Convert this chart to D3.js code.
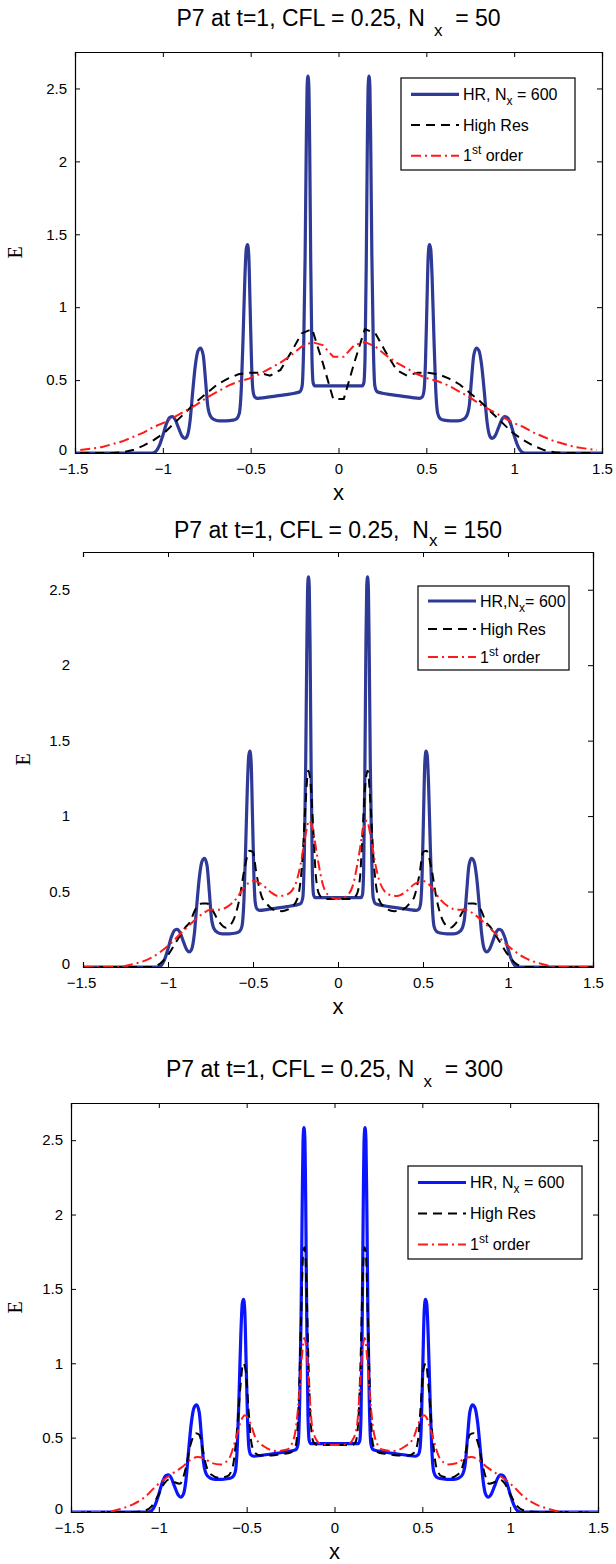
<!DOCTYPE html>
<html>
<head>
<meta charset="utf-8">
<script src="https://cdn.jsdelivr.net/npm/d3@7"></script>
<style>
  body { margin: 0; background: #fff; }
  svg { display: block; }
  text { font-family: "Liberation Sans", Arial, Helvetica, sans-serif; fill: #000; }
</style>
</head>
<body>
<svg id="chart" width="616" height="1564"></svg>
<script>
// ---------------- DATA ----------------
const xTicks = [-1.5, -1, -0.5, 0, 0.5, 1, 1.5];
const xTickLabels = ["\u22121.5", "\u22121", "\u22120.5", "0", "0.5", "1", "1.5"];
const yTicks = [0, 0.5, 1, 1.5, 2, 2.5];
const yTickLabels = ["0", "0.5", "1", "1.5", "2", "2.5"];
const titlesN = ["50", "150", "300"];
const legendLabels = ["HR, N", "High Res", "1st order"];

// Reference solution HR, Nx = 600 (same in every panel)
const hrCurve = [
  [-1.5,0],[-1.2,0],[-1.06,0],[-1.04,0.01],[-1.02,0.05],[-1.0,0.12],[-0.98,0.2],[-0.96,0.245],[-0.945,0.25],
  [-0.93,0.23],[-0.91,0.17],[-0.89,0.115],[-0.875,0.1],[-0.86,0.12],[-0.845,0.22],[-0.83,0.42],[-0.815,0.6],
  [-0.8,0.7],[-0.785,0.72],[-0.77,0.67],[-0.757,0.5],[-0.745,0.33],[-0.73,0.255],[-0.71,0.23],[-0.68,0.22],
  [-0.64,0.22],[-0.6,0.225],[-0.58,0.235],[-0.565,0.27],[-0.553,0.45],[-0.543,0.8],[-0.533,1.2],[-0.525,1.4],
  [-0.518,1.43],[-0.511,1.36],[-0.503,1.0],[-0.495,0.62],[-0.487,0.43],[-0.477,0.385],[-0.46,0.375],[-0.42,0.38],
  [-0.36,0.39],[-0.3,0.4],[-0.25,0.41],[-0.22,0.42],[-0.207,0.46],[-0.198,0.75],[-0.19,1.35],[-0.184,2.05],
  [-0.179,2.5],[-0.174,2.585],[-0.169,2.52],[-0.164,2.1],[-0.158,1.3],[-0.151,0.65],[-0.144,0.48],[-0.135,0.46],
  [-0.1,0.46],[-0.05,0.46],[0,0.46],
  [0.05,0.46],[0.1,0.46],[0.135,0.46],[0.144,0.48],[0.151,0.65],[0.158,1.3],[0.164,2.1],[0.169,2.52],[0.174,2.585],
  [0.179,2.5],[0.184,2.05],[0.19,1.35],[0.198,0.75],[0.207,0.46],[0.22,0.42],[0.25,0.41],[0.3,0.4],[0.36,0.39],
  [0.42,0.38],[0.46,0.375],[0.477,0.385],[0.487,0.43],[0.495,0.62],[0.503,1.0],[0.511,1.36],[0.518,1.43],
  [0.525,1.4],[0.533,1.2],[0.543,0.8],[0.553,0.45],[0.565,0.27],[0.58,0.235],[0.6,0.225],[0.64,0.22],[0.68,0.22],
  [0.71,0.23],[0.73,0.255],[0.745,0.33],[0.757,0.5],[0.77,0.67],[0.785,0.72],[0.8,0.7],[0.815,0.6],[0.83,0.42],
  [0.845,0.22],[0.86,0.12],[0.875,0.1],[0.89,0.115],[0.91,0.17],[0.93,0.23],[0.945,0.25],[0.96,0.245],[0.98,0.2],
  [1.0,0.12],[1.02,0.05],[1.04,0.01],[1.06,0],[1.2,0],[1.5,0]
];

// Panel 1: Nx = 50
const highRes50 = [
  [-1.47,0],[-1.41,0],[-1.35,0],[-1.29,0],[-1.23,0.005],[-1.17,0.02],[-1.11,0.05],[-1.05,0.09],[-0.99,0.14],
  [-0.93,0.21],[-0.87,0.28],[-0.81,0.35],[-0.75,0.41],[-0.69,0.47],[-0.63,0.51],[-0.57,0.54],[-0.51,0.55],
  [-0.45,0.55],[-0.39,0.53],[-0.33,0.57],[-0.27,0.69],[-0.21,0.82],[-0.15,0.85],[-0.09,0.62],[-0.03,0.37],
  [0.03,0.37],[0.09,0.62],[0.15,0.85],[0.21,0.82],[0.27,0.69],[0.33,0.57],[0.39,0.53],[0.45,0.55],[0.51,0.55],
  [0.57,0.54],[0.63,0.51],[0.69,0.47],[0.75,0.41],[0.81,0.35],[0.87,0.28],[0.93,0.21],[0.99,0.14],[1.05,0.09],
  [1.11,0.05],[1.17,0.02],[1.23,0.005],[1.29,0],[1.35,0],[1.41,0],[1.47,0]
];
const firstOrder50 = [
  [-1.47,0.02],[-1.41,0.03],[-1.35,0.04],[-1.29,0.06],[-1.23,0.08],[-1.17,0.11],[-1.11,0.14],[-1.05,0.18],
  [-0.99,0.21],[-0.93,0.25],[-0.87,0.29],[-0.81,0.33],[-0.75,0.38],[-0.69,0.42],[-0.63,0.46],[-0.57,0.49],
  [-0.51,0.51],[-0.45,0.54],[-0.39,0.58],[-0.33,0.62],[-0.27,0.67],[-0.21,0.73],[-0.15,0.76],[-0.09,0.74],
  [-0.03,0.66],[0.03,0.66],[0.09,0.74],[0.15,0.76],[0.21,0.73],[0.27,0.67],[0.33,0.62],[0.39,0.58],[0.45,0.54],
  [0.51,0.51],[0.57,0.49],[0.63,0.46],[0.69,0.42],[0.75,0.38],[0.81,0.33],[0.87,0.29],[0.93,0.25],[0.99,0.21],
  [1.05,0.18],[1.11,0.14],[1.17,0.11],[1.23,0.08],[1.29,0.06],[1.35,0.04],[1.41,0.03],[1.47,0.02]
];

// Panel 2: Nx = 150
const highRes150 = [
  [-1.5,0],[-1.1,0],[-1.05,0.02],[-1.0,0.08],[-0.95,0.17],[-0.9,0.26],[-0.87,0.3],[-0.84,0.38],[-0.8,0.42],
  [-0.77,0.42],[-0.74,0.38],[-0.7,0.3],[-0.66,0.26],[-0.62,0.3],[-0.58,0.45],[-0.55,0.65],[-0.52,0.77],
  [-0.5,0.76],[-0.48,0.62],[-0.45,0.47],[-0.42,0.42],[-0.38,0.38],[-0.33,0.37],[-0.28,0.39],[-0.24,0.45],
  [-0.21,0.7],[-0.19,1.1],[-0.175,1.3],[-0.16,1.2],[-0.145,0.9],[-0.13,0.6],[-0.11,0.48],[-0.08,0.45],[0,0.45],
  [0.08,0.45],[0.11,0.48],[0.13,0.6],[0.145,0.9],[0.16,1.2],[0.175,1.3],[0.19,1.1],[0.21,0.7],[0.24,0.45],
  [0.28,0.39],[0.33,0.37],[0.38,0.38],[0.42,0.42],[0.45,0.47],[0.48,0.62],[0.5,0.76],[0.52,0.77],[0.55,0.65],
  [0.58,0.45],[0.62,0.3],[0.66,0.26],[0.7,0.3],[0.74,0.38],[0.77,0.42],[0.8,0.42],[0.84,0.38],[0.87,0.3],
  [0.9,0.26],[0.95,0.17],[1.0,0.08],[1.05,0.02],[1.1,0],[1.5,0]
];
const firstOrder150 = [
  [-1.5,0],[-1.3,0],[-1.2,0.02],[-1.1,0.06],[-1.0,0.14],[-0.9,0.25],[-0.8,0.35],[-0.75,0.38],[-0.7,0.38],
  [-0.65,0.4],[-0.6,0.45],[-0.55,0.53],[-0.5,0.57],[-0.45,0.55],[-0.4,0.5],[-0.35,0.47],[-0.3,0.48],
  [-0.25,0.55],[-0.22,0.68],[-0.19,0.88],[-0.17,0.97],[-0.15,0.92],[-0.12,0.72],[-0.09,0.55],[-0.05,0.47],[0,0.45],
  [0.05,0.47],[0.09,0.55],[0.12,0.72],[0.15,0.92],[0.17,0.97],[0.19,0.88],[0.22,0.68],[0.25,0.55],[0.3,0.48],
  [0.35,0.47],[0.4,0.5],[0.45,0.55],[0.5,0.57],[0.55,0.53],[0.6,0.45],[0.65,0.4],[0.7,0.38],[0.75,0.38],
  [0.8,0.35],[0.9,0.25],[1.0,0.14],[1.1,0.06],[1.2,0.02],[1.3,0],[1.5,0]
];

// Panel 3: Nx = 300
const highRes300 = [
  [-1.5,0],[-1.15,0],[-1.08,0.01],[-1.04,0.04],[-1.0,0.12],[-0.97,0.19],[-0.94,0.22],[-0.91,0.2],[-0.88,0.19],
  [-0.85,0.28],[-0.82,0.45],[-0.79,0.53],[-0.77,0.52],[-0.75,0.42],[-0.73,0.31],[-0.7,0.25],[-0.66,0.23],
  [-0.61,0.24],[-0.58,0.3],[-0.555,0.55],[-0.535,0.85],[-0.52,1.0],[-0.505,0.95],[-0.49,0.7],[-0.475,0.48],
  [-0.455,0.4],[-0.42,0.38],[-0.36,0.38],[-0.3,0.39],[-0.25,0.4],[-0.22,0.45],[-0.205,0.7],[-0.19,1.3],
  [-0.178,1.75],[-0.17,1.78],[-0.16,1.55],[-0.148,1.0],[-0.135,0.6],[-0.12,0.47],[-0.1,0.45],[0,0.45],
  [0.1,0.45],[0.12,0.47],[0.135,0.6],[0.148,1.0],[0.16,1.55],[0.17,1.78],[0.178,1.75],[0.19,1.3],[0.205,0.7],
  [0.22,0.45],[0.25,0.4],[0.3,0.39],[0.36,0.38],[0.42,0.38],[0.455,0.4],[0.475,0.48],[0.49,0.7],[0.505,0.95],
  [0.52,1.0],[0.535,0.85],[0.555,0.55],[0.58,0.3],[0.61,0.24],[0.66,0.23],[0.7,0.25],[0.73,0.31],[0.75,0.42],
  [0.77,0.52],[0.79,0.53],[0.82,0.45],[0.85,0.28],[0.88,0.19],[0.91,0.2],[0.94,0.22],[0.97,0.19],[1.0,0.12],
  [1.04,0.04],[1.08,0.01],[1.15,0],[1.5,0]
];
const firstOrder300 = [
  [-1.5,0],[-1.3,0],[-1.22,0.02],[-1.15,0.05],[-1.08,0.1],[-1.02,0.17],[-0.97,0.22],[-0.92,0.26],[-0.87,0.3],
  [-0.82,0.35],[-0.78,0.37],[-0.74,0.36],[-0.7,0.33],[-0.65,0.32],[-0.6,0.36],[-0.56,0.5],[-0.53,0.62],
  [-0.51,0.65],[-0.48,0.6],[-0.45,0.5],[-0.4,0.44],[-0.33,0.41],[-0.27,0.42],[-0.23,0.5],[-0.2,0.8],
  [-0.185,1.05],[-0.172,1.17],[-0.16,1.1],[-0.145,0.85],[-0.13,0.6],[-0.11,0.5],[-0.08,0.46],[0,0.45],
  [0.08,0.46],[0.11,0.5],[0.13,0.6],[0.145,0.85],[0.16,1.1],[0.172,1.17],[0.185,1.05],[0.2,0.8],[0.23,0.5],
  [0.27,0.42],[0.33,0.41],[0.4,0.44],[0.45,0.5],[0.48,0.6],[0.51,0.65],[0.53,0.62],[0.56,0.5],[0.6,0.36],
  [0.65,0.32],[0.7,0.33],[0.74,0.36],[0.78,0.37],[0.82,0.35],[0.87,0.3],[0.92,0.26],[0.97,0.22],[1.02,0.17],
  [1.08,0.1],[1.15,0.05],[1.22,0.02],[1.3,0],[1.5,0]
];

// ---------------- LAYOUT ----------------
const panels = [
  { left: 75, right: 602, top: 52, bottom: 453, titleY: 26, subDy: 10, n: titlesN[0], titleGap: 9, hrColor: "#2e3a96",
    high: highRes50, first: firstOrder50, coarse: true, leftAxis: true, eX: 22,
    legend: { x0: 401, y0: 78, x1: 575, y1: 170, hrText: "HR, N", hrGap: true } },
  { left: 83, right: 593, top: 552, bottom: 967, titleY: 538, subDy: 8, n: titlesN[1], titleGap: 0, hrColor: "#2e3a96",
    high: highRes150, first: firstOrder150, coarse: false, leftAxis: false, eX: 30,
    legend: { x0: 418, y0: 586, x1: 569, y1: 670, hrText: "HR,N", hrGap: false } },
  { left: 71, right: 598, top: 1103, bottom: 1512, titleY: 1077, subDy: 10, n: titlesN[2], titleGap: 9, hrColor: "#0a14ff",
    high: highRes300, first: firstOrder300, coarse: false, leftAxis: true, eX: 22,
    legend: { x0: 408, y0: 1166, x1: 582, y1: 1259, hrText: "HR, N", hrGap: true } }
];

const DASH_BLACK = "9,6";
const DASH_RED = "10,4,2,4";

const svg = d3.select("#chart");
svg.append("rect").attr("width", 616).attr("height", 1564).attr("fill", "#fff");

panels.forEach((p, i) => {
  const x = d3.scaleLinear().domain([-1.5, 1.5]).range([p.left, p.right]);
  const y = d3.scaleLinear().domain([0, 2.75]).range([p.bottom, p.top]);
  const g = svg.append("g");

  const clipId = "clip" + i;
  svg.append("clipPath").attr("id", clipId).append("rect")
    .attr("x", p.left).attr("y", p.top - 2).attr("width", p.right - p.left).attr("height", p.bottom - p.top + 2);

  // title
  const t = g.append("text").attr("x", (p.left + p.right) / 2).attr("y", p.titleY)
    .attr("text-anchor", "middle").style("font-size", "23px");
  t.append("tspan").text("P7 at t=1, CFL = 0.25," + (i === 1 ? "\u00a0 N" : " N"));
  t.append("tspan").attr("dx", p.titleGap).attr("dy", p.subDy).style("font-size", "17px").text("x");
  t.append("tspan").attr("dy", -p.subDy).text((p.titleGap ? "\u00a0" : "") + " = " + p.n);

  // data lines
  const lineSmooth = d3.line().x(d => x(d[0])).y(d => y(d[1])).curve(d3.curveMonotoneX);
  const lineLin = d3.line().x(d => x(d[0])).y(d => y(d[1]));
  const plot = g.append("g").attr("clip-path", `url(#${clipId})`);

  plot.append("path").datum(hrCurve).attr("d", lineSmooth)
    .attr("fill", "none").attr("stroke", p.hrColor).attr("stroke-width", 3.2).attr("stroke-linejoin", "round");
  plot.append("path").datum(p.high).attr("d", p.coarse ? lineLin : lineSmooth)
    .attr("fill", "none").attr("stroke", "#000").attr("stroke-width", 2).attr("stroke-dasharray", DASH_BLACK);
  plot.append("path").datum(p.first).attr("d", p.coarse ? lineLin : lineSmooth)
    .attr("fill", "none").attr("stroke", "#ff1a1a").attr("stroke-width", 2).attr("stroke-dasharray", DASH_RED);

  // axes (box with inward ticks)
  const tickLen = 5;
  const axBottom = g.append("g").attr("transform", `translate(0,${p.bottom})`)
    .call(d3.axisBottom(x).tickValues(xTicks).tickSize(-tickLen).tickPadding(10)
      .tickFormat((d, k) => xTickLabels[k]));
  const axTop = g.append("g").attr("transform", `translate(0,${p.top})`)
    .call(d3.axisTop(x).tickValues(xTicks).tickSize(-tickLen).tickFormat(""));
  const axLeft = g.append("g").attr("transform", `translate(${p.left},0)`)
    .call(d3.axisLeft(y).tickValues(yTicks).tickSize(p.leftAxis ? -tickLen : 0).tickPadding(p.leftAxis ? 8 : 13)
      .tickFormat((d, k) => yTickLabels[k]));
  const axRight = g.append("g").attr("transform", `translate(${p.right},0)`)
    .call(d3.axisRight(y).tickValues(yTicks).tickSize(-tickLen).tickFormat(""));
  [axBottom, axTop, axLeft, axRight].forEach(a => {
    a.selectAll(".domain").attr("stroke", "#000").attr("stroke-width", 1.2);
    a.selectAll(".tick line").attr("stroke", "#000");
    a.selectAll("text").style("font-size", "15px").attr("fill", "#000")
      .style("font-family", '"Liberation Sans", Arial, sans-serif');
  });
  if (!p.leftAxis) axLeft.select(".domain").remove();
  axBottom.select(".tick text").attr("dx", "-2");
  axLeft.select(".tick text").attr("dy", "0.1em");

  // axis labels
  g.append("text").attr("x", (p.left + p.right) / 2).attr("y", p.bottom + 47)
    .attr("text-anchor", "middle").style("font-size", "22px").text("x");
  g.append("text").attr("transform", `translate(${p.eX},${(p.top + p.bottom) / 2}) rotate(-90)`)
    .attr("text-anchor", "middle").style("font-family", '"Liberation Serif", "Times New Roman", serif')
    .style("font-size", "20px").text("E");

  // legend
  const L = p.legend;
  g.append("rect").attr("x", L.x0).attr("y", L.y0).attr("width", L.x1 - L.x0).attr("height", L.y1 - L.y0)
    .attr("fill", "#fff").attr("stroke", "#000").attr("stroke-width", 1.2);
  const rowH = (L.y1 - L.y0) / 3;
  const lx0 = L.x0 + 10, lx1 = L.x0 + 58, tx = L.x0 + 62;
  const rows = [
    { color: p.hrColor, w: 3.2, dash: null },
    { color: "#000", w: 2, dash: DASH_BLACK },
    { color: "#ff1a1a", w: 2, dash: DASH_RED }
  ];
  rows.forEach((r, k) => {
    const cy = L.y0 + rowH * (k + 0.5) + 1;
    const ln = g.append("line").attr("x1", lx0).attr("x2", lx1).attr("y1", cy).attr("y2", cy)
      .attr("stroke", r.color).attr("stroke-width", r.w);
    if (r.dash) ln.attr("stroke-dasharray", r.dash);
    const tt = g.append("text").attr("x", tx).attr("y", cy + 5.5).style("font-size", "16px");
    if (k === 0) {
      tt.append("tspan").text(L.hrText);
      tt.append("tspan").attr("dy", 5).style("font-size", "12px").text("x");
      tt.append("tspan").attr("dy", -5).text((L.hrGap ? " = " : "= ") + "600");
    } else if (k === 1) {
      tt.text(legendLabels[1]);
    } else {
      tt.append("tspan").text("1");
      tt.append("tspan").attr("dy", -7).style("font-size", "12px").text("st");
      tt.append("tspan").attr("dy", 7).text(" order");
    }
  });
});
</script>
</body>
</html>
